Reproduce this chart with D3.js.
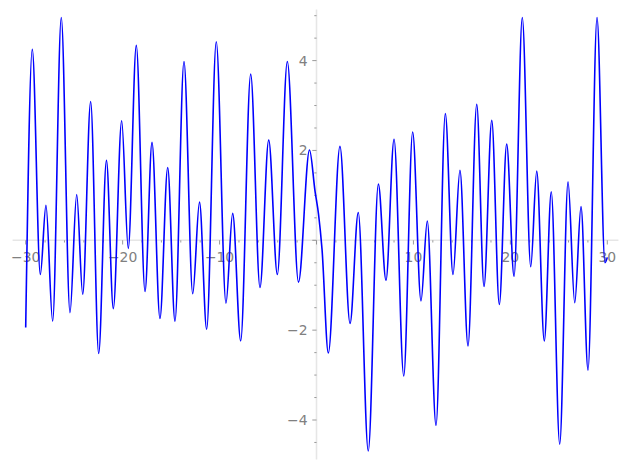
<!DOCTYPE html>
<html>
<head>
<meta charset="utf-8">
<script src="https://cdn.jsdelivr.net/npm/d3@7"></script>
<style>
  html, body { margin: 0; padding: 0; background: #ffffff; }
  svg { display: block; }
  text { font-family: "DejaVu Sans", sans-serif; }
</style>
</head>
<body>
<div id="chart"></div>
<script>
// ---- data (local extrema and a few shape points) ----
const curveX = [-30, -29.32, -28.49, -27.91, -27.22, -26.33, -25.43, -24.74, -24.12, -23.30,
  -22.47, -21.67, -20.96, -20.10, -19.42, -18.59, -17.69, -16.97, -16.15, -15.35,
  -14.60, -13.67, -12.77, -12.07, -11.33, -10.34, -9.34, -8.65, -7.82, -6.79,
  -5.83, -4.93, -4.04, -3.01, -1.86, -0.72, -0.15, 0.21, 0.57, 1.22,
  2.42, 3.46, 4.31, 5.34, 6.38, 7.17, 8.00, 9.00, 9.92, 10.78,
  11.43, 12.33, 13.29, 14.08, 14.80, 15.63, 16.53, 17.28, 18.08, 18.86,
  19.62, 20.38, 21.23, 22.10, 22.72, 23.50, 24.22, 25.09, 25.95, 26.64,
  27.29, 28.01, 28.94, 29.76, 30];
const curveY = [-1.94, 4.25, -0.76, 0.78, -1.80, 4.96, -1.61, 1.02, -1.20, 3.09,
  -2.52, 1.78, -1.52, 2.66, -0.18, 4.34, -1.14, 2.18, -1.74, 1.62,
  -1.80, 3.98, -1.19, 0.85, -1.98, 4.42, -1.40, 0.60, -2.24, 3.70,
  -1.05, 2.23, -0.76, 3.98, -0.93, 2.01, 1.09, 0.58, -0.20, -2.51,
  2.09, -1.85, 0.62, -4.69, 1.25, -0.89, 2.25, -3.02, 2.41, -1.35,
  0.43, -4.12, 2.82, -0.76, 1.56, -2.35, 3.03, -1.03, 2.67, -1.43,
  2.14, -0.80, 4.96, -0.59, 1.54, -2.24, 1.08, -4.54, 1.30, -1.39,
  0.75, -2.89, 4.96, -0.50, -0.38];

const xMajorTicks = [-30, -20, -10, 0, 10, 20, 30];
const xTickLabels = ["\u221230", "\u221220", "\u221210", "", "10", "20", "30"];
const yMajorTicks = [-4, -2, 0, 2, 4];
const yTickLabels = ["\u22124", "\u22122", "", "2", "4"];
const xMinorStep = 2;
const yMinorStep = 0.5;
const xAxisExtent = [-31.35, 31.15];
const yAxisExtent = [-4.88, 5.14];

// ---- drawing ----
const W = 627, H = 470;
const svg = d3.select("#chart").append("svg").attr("width", W).attr("height", H);

const x = d3.scaleLinear().domain([-30, 30]).range([25.7, 607.3]);
const y = d3.scaleLinear().domain([-4, 4]).range([420.0, 60.6]);

const axisColor = "#e6e6e6";
const tickColor = "#808080";
const labelColor = "#808080";

// axis lines
svg.append("line")
  .attr("x1", x(xAxisExtent[0])).attr("x2", x(xAxisExtent[1]))
  .attr("y1", y(0)).attr("y2", y(0))
  .attr("stroke", axisColor).attr("stroke-width", 1.6);
svg.append("line")
  .attr("x1", x(0)).attr("x2", x(0))
  .attr("y1", y(yAxisExtent[0])).attr("y2", y(yAxisExtent[1]))
  .attr("stroke", axisColor).attr("stroke-width", 1.6);

// x minor ticks
const xMinor = d3.range(-30, 30 + 1e-9, xMinorStep).filter(v => !xMajorTicks.includes(v));
svg.append("g").selectAll("line").data(xMinor).join("line")
  .attr("x1", d => x(d)).attr("x2", d => x(d))
  .attr("y1", y(0)).attr("y2", y(0) + 2.2)
  .attr("stroke", tickColor).attr("stroke-width", 0.8);
// x major ticks
svg.append("g").selectAll("line").data(xMajorTicks).join("line")
  .attr("x1", d => x(d)).attr("x2", d => x(d))
  .attr("y1", y(0)).attr("y2", y(0) + 4.2)
  .attr("stroke", tickColor).attr("stroke-width", 0.8);
// y minor ticks
const yMinor = d3.range(-4.5, 5 + 1e-9, yMinorStep).filter(v => !yMajorTicks.includes(v));
svg.append("g").selectAll("line").data(yMinor).join("line")
  .attr("x1", x(0) - 2.2).attr("x2", x(0))
  .attr("y1", d => y(d)).attr("y2", d => y(d))
  .attr("stroke", tickColor).attr("stroke-width", 0.8);
// y major ticks
svg.append("g").selectAll("line").data(yMajorTicks).join("line")
  .attr("x1", x(0) - 4.2).attr("x2", x(0))
  .attr("y1", d => y(d)).attr("y2", d => y(d))
  .attr("stroke", tickColor).attr("stroke-width", 0.8);

// tick labels
svg.append("g").selectAll("text").data(xMajorTicks).join("text")
  .attr("x", d => x(d)).attr("y", y(0) + 21.5)
  .attr("text-anchor", "middle")
  .attr("font-size", 13.9).attr("fill", labelColor)
  .text((d, i) => xTickLabels[i]);
svg.append("g").selectAll("text").data(yMajorTicks).join("text")
  .attr("x", x(0) - 9).attr("y", d => y(d) + 5)
  .attr("text-anchor", "end")
  .attr("font-size", 13.9).attr("fill", labelColor)
  .text((d, i) => yTickLabels[i]);

// curve
const pts = curveX.map((v, i) => [v, curveY[i]]);
const line = d3.line().x(d => x(d[0])).y(d => y(d[1])).curve(d3.curveMonotoneX);
svg.append("path")
  .attr("d", line(pts))
  .attr("fill", "none")
  .attr("stroke", "#0000ff")
  .attr("stroke-width", 1.6)
  .attr("stroke-linejoin", "round");
</script>
</body>
</html>
